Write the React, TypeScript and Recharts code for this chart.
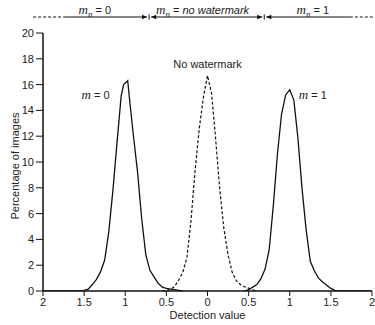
import { LineChart, Line, XAxis, YAxis, ReferenceLine, ReferenceDot, Label } from "recharts";

const SANS = "'Liberation Sans', Arial, sans-serif";
const SERIF = "'Liberation Serif', 'Times New Roman', serif";
const INK = "#111";
const TEXT = "#222";

// detection value (signed: left half is m = 0, right half is m = 1)
const xTicks = [-2, -1.5, -1, -0.5, 0, 0.5, 1, 1.5, 2];
const yTicks = [0, 2, 4, 6, 8, 10, 12, 14, 16, 18, 20];

const m0X = [-2, -1.55, -1.5, -1.45, -1.4, -1.35, -1.3, -1.25, -1.2, -1.15, -1.1, -1.05, -1.02, -0.97, -0.95, -0.9, -0.85, -0.8, -0.75, -0.7, -0.65, -0.6, -0.55, -0.5, -0.45, -0.4, -0.35, -0.3];
const m0Y = [0, 0, 0.05, 0.15, 0.5, 0.9, 1.5, 2.4, 4.6, 7.8, 11.5, 15.1, 16.0, 16.3, 15.0, 12.0, 9.2, 5.6, 2.8, 1.6, 1.1, 0.6, 0.3, 0.2, 0.15, 0.1, 0.05, 0];

const noX = [-0.55, -0.5, -0.45, -0.4, -0.35, -0.3, -0.25, -0.2, -0.15, -0.1, -0.05, 0, 0.05, 0.1, 0.15, 0.2, 0.25, 0.3, 0.35, 0.4, 0.45, 0.5, 0.55, 0.6];
const noY = [0, 0.05, 0.12, 0.35, 0.85, 1.45, 2.6, 5.5, 9.4, 12.6, 15.0, 16.7, 15.3, 11.7, 7.8, 4.8, 2.8, 1.45, 0.8, 0.5, 0.33, 0.22, 0.1, 0];

const m1X = [0.45, 0.5, 0.55, 0.6, 0.65, 0.7, 0.75, 0.8, 0.85, 0.9, 0.95, 1.0, 1.05, 1.1, 1.15, 1.2, 1.25, 1.3, 1.35, 1.4, 1.45, 1.5, 1.55, 1.6, 2];
const m1Y = [0, 0.1, 0.3, 0.5, 0.95, 1.7, 3.2, 6.6, 10.6, 13.7, 15.2, 15.6, 14.8, 11.8, 7.9, 4.7, 2.3, 1.55, 1.0, 0.7, 0.45, 0.2, 0.05, 0, 0];

const toRows = (xs: number[], ys: number[]) => xs.map((x, i) => ({ x, y: ys[i] }));
const m0Data = toRows(m0X, m0Y);
const noData = toRows(noX, noY);
const m1Data = toRows(m1X, m1Y);

// header band above the plot: m_n regions split at about +-0.7
const HEAD_Y = 21.24;
const HEAD_TEXT_Y = 21.5;
const headerSegments = [
  { from: -2.12, to: -1.73, dash: true, start: false, end: false },
  { from: -1.73, to: -0.735, dash: false, start: false, end: true },
  { from: -0.685, to: 0.665, dash: false, start: true, end: true },
  { from: 0.715, to: 1.73, dash: false, start: true, end: false },
  { from: 1.73, to: 2.06, dash: true, start: false, end: false },
];
const headerBars = [-0.71, 0.69];
const headerLabels = [
  { x: -1.37, text: "0", italic: false },
  { x: -0.06, text: "no watermark", italic: true },
  { x: 1.28, text: "1", italic: false },
];

function arrowShape(start: boolean, end: boolean, dash: boolean) {
  return (p: any) => {
    const { x1, y1, x2, y2 } = p;
    const s = 5;
    const w = 2.2;
    return (
      <g>
        <line x1={x1} y1={y1} x2={x2} y2={y2} stroke={INK} strokeWidth={1} strokeDasharray={dash ? "3 2" : undefined} />
        {start && <polygon points={`${x1},${y1} ${x1 + s},${y1 - w} ${x1 + s},${y1 + w}`} fill={INK} />}
        {end && <polygon points={`${x2},${y2} ${x2 - s},${y2 - w} ${x2 - s},${y2 + w}`} fill={INK} />}
      </g>
    );
  };
}

function headerText(text: string, italic: boolean) {
  return (p: any) => (
    <text x={p.cx} y={p.cy} textAnchor="middle" fontSize={11} fontFamily={SANS} fill={TEXT}>
      <tspan fontFamily={SERIF} fontStyle="italic" fontSize={13}>m</tspan>
      <tspan fontFamily={SERIF} fontStyle="italic" fontSize={9} dy={3}>n</tspan>
      <tspan dy={-3}> = </tspan>
      <tspan fontStyle={italic ? "italic" : "normal"}>{text}</tspan>
    </text>
  );
}

function mText(value: string) {
  return (p: any) => (
    <text x={p.cx} y={p.cy} textAnchor="middle" fontSize={11} fontFamily={SANS} fill={TEXT}>
      <tspan fontFamily={SERIF} fontStyle="italic" fontSize={13}>m</tspan>
      <tspan> = {value}</tspan>
    </text>
  );
}

const plainText = (value: string) => (p: any) => (
  <text x={p.cx} y={p.cy} textAnchor="middle" fontSize={11} fontFamily={SANS} fill={TEXT}>
    {value}
  </text>
);

const tick = { fontSize: 11, fill: TEXT, fontFamily: SANS };
const axisStroke = { stroke: INK, strokeWidth: 1.5 };

export default function App() {
  return (
    <div style={{ position: "absolute", left: 0, top: 0, background: "#fff" }}>
      <LineChart width={375} height={325} margin={{ top: 33, right: 3, bottom: 0, left: 0 }}>
        <XAxis
          type="number"
          dataKey="x"
          domain={[-2, 2]}
          ticks={xTicks}
          tickFormatter={(v: number) => String(Math.abs(v))}
          tick={tick}
          tickSize={5}
          tickMargin={2}
          height={34}
          axisLine={axisStroke}
          tickLine={{ stroke: INK }}
          allowDataOverflow
        >
          <Label
            content={(p: any) => (
              <text
                x={p.viewBox.x + p.viewBox.width / 2}
                y={p.viewBox.y + 28}
                textAnchor="middle"
                fontSize={11}
                fontFamily={SANS}
                fill={TEXT}
              >
                Detection value
              </text>
            )}
          />
        </XAxis>
        <XAxis
          xAxisId="top"
          orientation="top"
          type="number"
          domain={[-2, 2]}
          ticks={xTicks}
          mirror
          height={0}
          tickSize={4}
          tickFormatter={() => ""}
          axisLine={axisStroke}
          tickLine={{ stroke: INK }}
          allowDataOverflow
        />
        <YAxis
          type="number"
          domain={[0, 20]}
          ticks={yTicks}
          tick={tick}
          tickSize={7}
          tickMargin={2}
          width={43}
          axisLine={axisStroke}
          tickLine={{ stroke: INK }}
          allowDataOverflow
        >
          <Label
            content={(p: any) => {
              const cx = p.viewBox.x + 15;
              const cy = p.viewBox.y + p.viewBox.height / 2 + 4;
              return (
                <text
                  transform={`translate(${cx},${cy}) rotate(-90)`}
                  textAnchor="middle"
                  dominantBaseline="central"
                  fontSize={11}
                  fontFamily={SANS}
                  fill={TEXT}
                >
                  Percentage of images
                </text>
              );
            }}
          />
        </YAxis>
        <YAxis
          yAxisId="right"
          orientation="right"
          type="number"
          domain={[0, 20]}
          ticks={yTicks}
          mirror
          width={0}
          tickSize={4}
          tickFormatter={() => ""}
          axisLine={axisStroke}
          tickLine={{ stroke: INK }}
          allowDataOverflow
        />

        <Line data={m0Data} dataKey="y" type="linear" stroke={INK} strokeWidth={1.3} dot={false} isAnimationActive={false} />
        <Line data={noData} dataKey="y" type="linear" stroke={INK} strokeWidth={1.2} strokeDasharray="3 2" dot={false} isAnimationActive={false} />
        <Line data={m1Data} dataKey="y" type="linear" stroke={INK} strokeWidth={1.3} dot={false} isAnimationActive={false} />

        {headerSegments.map((s, i) => (
          <ReferenceLine
            key={`seg${i}`}
            segment={[{ x: s.from, y: HEAD_Y }, { x: s.to, y: HEAD_Y }]}
            ifOverflow="visible"
            shape={arrowShape(s.start, s.end, s.dash)}
          />
        ))}
        {headerBars.map((b, i) => (
          <ReferenceLine
            key={`bar${i}`}
            segment={[{ x: b, y: HEAD_Y - 0.2 }, { x: b, y: HEAD_Y + 0.2 }]}
            ifOverflow="visible"
            stroke={INK}
            strokeWidth={1}
          />
        ))}
        {headerLabels.map((h, i) => (
          <ReferenceDot key={`hl${i}`} x={h.x} y={HEAD_TEXT_Y} r={0} ifOverflow="visible" shape={headerText(h.text, h.italic)} />
        ))}

        <ReferenceDot x={-1.36} y={14.9} r={0} ifOverflow="visible" shape={mText("0")} />
        <ReferenceDot x={0} y={17.3} r={0} ifOverflow="visible" shape={plainText("No watermark")} />
        <ReferenceDot x={1.28} y={14.9} r={0} ifOverflow="visible" shape={mText("1")} />
      </LineChart>
    </div>
  );
}
